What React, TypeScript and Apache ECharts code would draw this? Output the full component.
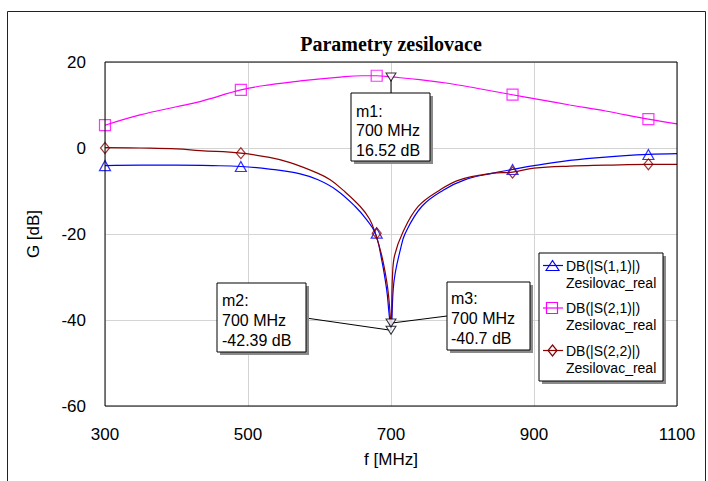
import React, { useEffect, useRef } from "react";
import * as echarts from "echarts";

const X_TICKS = [300, 500, 700, 900, 1100];
const Y_TICKS = [-60, -40, -20, 0, 20];

const S11_FREQ = [300, 350, 400, 450, 490, 530, 573, 598, 624, 650, 665, 678, 687, 694, 697, 700, 703, 706, 713, 720, 743, 773, 803, 841, 870, 900, 950, 1000, 1060, 1100];
const S11_DB = [-4.1, -4.0, -4.0, -4.1, -4.3, -4.9, -6.0, -7.4, -9.8, -13.6, -16.5, -19.8, -26, -33, -38, -42.39, -33, -29, -23.7, -19.8, -13.6, -9.8, -7.4, -5.9, -5.0, -4.1, -2.9, -2.1, -1.5, -1.3];

const S21_FREQ = [300, 349, 400, 433, 490, 530, 573, 629, 660, 680, 700, 740, 782, 820, 866, 910, 950, 1000, 1060, 1100];
const S21_DB = [5.3, 7.7, 9.6, 10.8, 13.5, 14.7, 15.6, 16.5, 16.8, 16.8, 16.52, 15.9, 15.0, 13.9, 12.5, 11.2, 10.0, 8.6, 6.7, 5.6];

const S22_FREQ = [300, 350, 400, 433, 490, 530, 559, 598, 615, 633, 657, 670, 678, 687, 694, 697, 700, 702, 705, 716, 738, 768, 796, 841, 870, 900, 950, 1000, 1060, 1100];
const S22_DB = [0.1, 0.0, -0.2, -0.6, -1.2, -2.2, -3.4, -5.9, -7.4, -9.8, -13.6, -16.5, -19.8, -25, -31, -35, -40.7, -30, -25, -19.8, -13.6, -9.8, -7.4, -5.9, -5.6, -4.7, -4.2, -4.0, -3.8, -3.8];

const MK_FREQ = [300, 490, 680, 870, 1060];
const S11_MK = [-4.1, -4.3, -19.8, -5.0, -1.5];
const S21_MK = [5.3, 13.5, 16.8, 12.4, 6.7];
const S22_MK = [0.0, -1.2, -19.8, -5.7, -3.8];

const MARKER_NAMES = ["m1", "m2", "m3"];
const MARKER_FREQ = [700, 700, 700];
const MARKER_DB = [16.52, -42.39, -40.7];

const LEGEND_NAMES = ["DB(|S(1,1)|)", "DB(|S(2,1)|)", "DB(|S(2,2)|)"];
const LEGEND_SUB = "Zesilovac_real";

const BLUE = "#0000ff";
const MAGENTA = "#ff00ff";
const BROWN = "#8b0000";
const FONT = "Liberation Sans, Arial, sans-serif";

const zip = (xs: number[], ys: number[]) => xs.map((x, i) => [x, ys[i]]);

export default function App() {
  const ref = useRef<HTMLDivElement>(null);
  useEffect(() => {
    document.body.style.margin = "0";
    const chart = echarts.init(ref.current!, null, { renderer: "svg" });
    const grid = { left: 105, top: 62, width: 572, height: 344 };
    const lineSeries = (name: string, data: number[][], color: string) => ({
      name,
      type: "line",
      data,
      smooth: 0.4,
      showSymbol: false,
      symbol: "none",
      lineStyle: { color, width: 1.2 },
      z: 2,
    });
    const markSeries = (data: number[][], color: string, symbol: string, size: number[]) => ({
      type: "scatter",
      data,
      symbol,
      symbolSize: size,
      itemStyle: { color: "rgba(255,255,255,0)", borderColor: color, borderWidth: 1.2 },
      z: 3,
    });
    chart.setOption({
      animation: false,
      grid,
      xAxis: {
        type: "value",
        min: X_TICKS[0],
        max: X_TICKS[X_TICKS.length - 1],
        interval: X_TICKS[1] - X_TICKS[0],
        name: "f [MHz]",
        nameLocation: "middle",
        nameGap: 45,
        nameTextStyle: { fontFamily: FONT, fontSize: 17, color: "#000" },
        axisLine: { show: false },
        axisTick: { show: false },
        axisLabel: { fontFamily: FONT, fontSize: 17, color: "#000", margin: 20, formatter: (v: number) => String(v) },
        splitLine: { lineStyle: { color: "#d4d4d4", width: 1 } },
      },
      yAxis: {
        type: "value",
        min: Y_TICKS[0],
        max: Y_TICKS[Y_TICKS.length - 1],
        interval: Y_TICKS[1] - Y_TICKS[0],
        name: "G [dB]",
        nameLocation: "middle",
        nameGap: 63,
        nameTextStyle: { fontFamily: FONT, fontSize: 17, color: "#000" },
        axisLine: { show: false },
        axisTick: { show: false },
        axisLabel: { fontFamily: FONT, fontSize: 17, color: "#000", margin: 19, formatter: (v: number) => String(v) },
        splitLine: { lineStyle: { color: "#d4d4d4", width: 1 } },
      },
      series: [
        lineSeries(LEGEND_NAMES[0], zip(S11_FREQ, S11_DB), BLUE),
        lineSeries(LEGEND_NAMES[1], zip(S21_FREQ, S21_DB), MAGENTA),
        lineSeries(LEGEND_NAMES[2], zip(S22_FREQ, S22_DB), BROWN),
        markSeries(zip(MK_FREQ, S11_MK), BLUE, "triangle", [11, 10]),
        markSeries(zip(MK_FREQ, S21_MK), MAGENTA, "rect", [11, 11]),
        markSeries(zip(MK_FREQ, S22_MK), BROWN, "diamond", [9, 11]),
        {
          type: "scatter",
          data: zip(MARKER_FREQ, MARKER_DB),
          symbol: "triangle",
          symbolRotate: 180,
          symbolSize: [10, 8],
          itemStyle: { color: "#fff", borderColor: "#000", borderWidth: 1 },
          z: 6,
        },
      ],
    });

    const px = (f: number, v: number) => chart.convertToPixel({ gridIndex: 0 }, [f, v]) as number[];
    const g: any[] = [];
    g.push({ type: "rect", shape: { x: 7.5, y: 11.5, width: 698, height: 480 }, style: { fill: "none", stroke: "#222", lineWidth: 1 }, z: 1 });
    g.push({
      type: "text",
      x: grid.left + grid.width / 2,
      y: 44,
      style: { text: "Parametry zesilovace", fontFamily: "Liberation Serif, Times New Roman, serif", fontWeight: "bold", fontSize: 20, fill: "#000", textAlign: "center", textVerticalAlign: "middle" },
      z: 10,
    });
    g.push({ type: "rect", shape: { x: grid.left, y: grid.top, width: grid.width, height: grid.height }, style: { fill: "none", stroke: "#000", lineWidth: 1 }, z: 5 });

    const box = (x: number, y: number, w: number, h: number, lines: string[], lx: number, ly0: number, dy: number, fs: number) => {
      g.push({ type: "rect", shape: { x: x + 3, y: y + 3, width: w, height: h }, style: { fill: "#8a8a8a" }, z: 20 });
      g.push({ type: "rect", shape: { x, y, width: w, height: h }, style: { fill: "#fff", stroke: "#000", lineWidth: 1 }, z: 21 });
      lines.forEach((t, i) => {
        g.push({ type: "text", x: lx, y: ly0 + i * dy, style: { text: t, fontFamily: FONT, fontSize: fs, fill: "#000", textVerticalAlign: "middle" }, z: 22 });
      });
    };

    const m1 = px(MARKER_FREQ[0], MARKER_DB[0]);
    const m2 = px(MARKER_FREQ[1], MARKER_DB[1]);
    const m3 = px(MARKER_FREQ[2], MARKER_DB[2]);
    g.push({ type: "line", shape: { x1: m1[0], y1: m1[1] + 3, x2: m1[0], y2: 93 }, style: { stroke: "#000", lineWidth: 1 }, z: 19 });
    g.push({ type: "line", shape: { x1: 306, y1: 318, x2: m2[0], y2: m2[1] }, style: { stroke: "#000", lineWidth: 1 }, z: 4 });
    g.push({ type: "line", shape: { x1: 447, y1: 316, x2: m3[0] + 1, y2: m3[1] }, style: { stroke: "#000", lineWidth: 1 }, z: 4 });

    const fmt = (i: number) => [MARKER_NAMES[i] + ":", MARKER_FREQ[i] + " MHz", MARKER_DB[i] + " dB"];
    box(351, 93, 79, 68, fmt(0), 356, 111, 19.5, 16);
    box(217, 283, 89, 69, fmt(1), 222, 300, 20, 16);
    box(447, 282, 83, 68, fmt(2), 451, 298, 20, 16);

    const lx = 539, ly = 253;
    g.push({ type: "rect", shape: { x: lx + 3, y: ly + 3, width: 124, height: 128 }, style: { fill: "#8a8a8a" }, z: 20 });
    g.push({ type: "rect", shape: { x: lx, y: ly, width: 124, height: 128 }, style: { fill: "#fff", stroke: "#000", lineWidth: 1 }, z: 21 });
    const colors = [BLUE, MAGENTA, BROWN];
    LEGEND_NAMES.forEach((name, i) => {
      const cy = 265.5 + i * 42.5;
      const c = colors[i];
      g.push({ type: "line", shape: { x1: 543, y1: cy, x2: 563, y2: cy }, style: { stroke: c, lineWidth: 1.2 }, z: 22 });
      if (i === 0) {
        g.push({ type: "polygon", shape: { points: [[546, cy + 5], [552.5, cy - 5], [559, cy + 5]] }, style: { fill: "none", stroke: c, lineWidth: 1.2 }, z: 22 });
      } else if (i === 1) {
        g.push({ type: "rect", shape: { x: 546.5, y: cy - 5.5, width: 11, height: 11 }, style: { fill: "none", stroke: c, lineWidth: 1.2 }, z: 22 });
      } else {
        g.push({ type: "polygon", shape: { points: [[552.5, cy - 5.5], [557, cy], [552.5, cy + 5.5], [548, cy]] }, style: { fill: "none", stroke: c, lineWidth: 1.2 }, z: 22 });
      }
      g.push({ type: "text", x: 566, y: cy, style: { text: name, fontFamily: FONT, fontSize: 14, fill: "#000", textVerticalAlign: "middle" }, z: 22 });
      g.push({ type: "text", x: 566, y: cy + 17, style: { text: LEGEND_SUB, fontFamily: FONT, fontSize: 14, fill: "#000", textVerticalAlign: "middle" }, z: 22 });
    });

    chart.setOption({ graphic: { elements: g } });
    return () => chart.dispose();
  }, []);
  return <div ref={ref} style={{ width: 708, height: 481 }} />;
}
